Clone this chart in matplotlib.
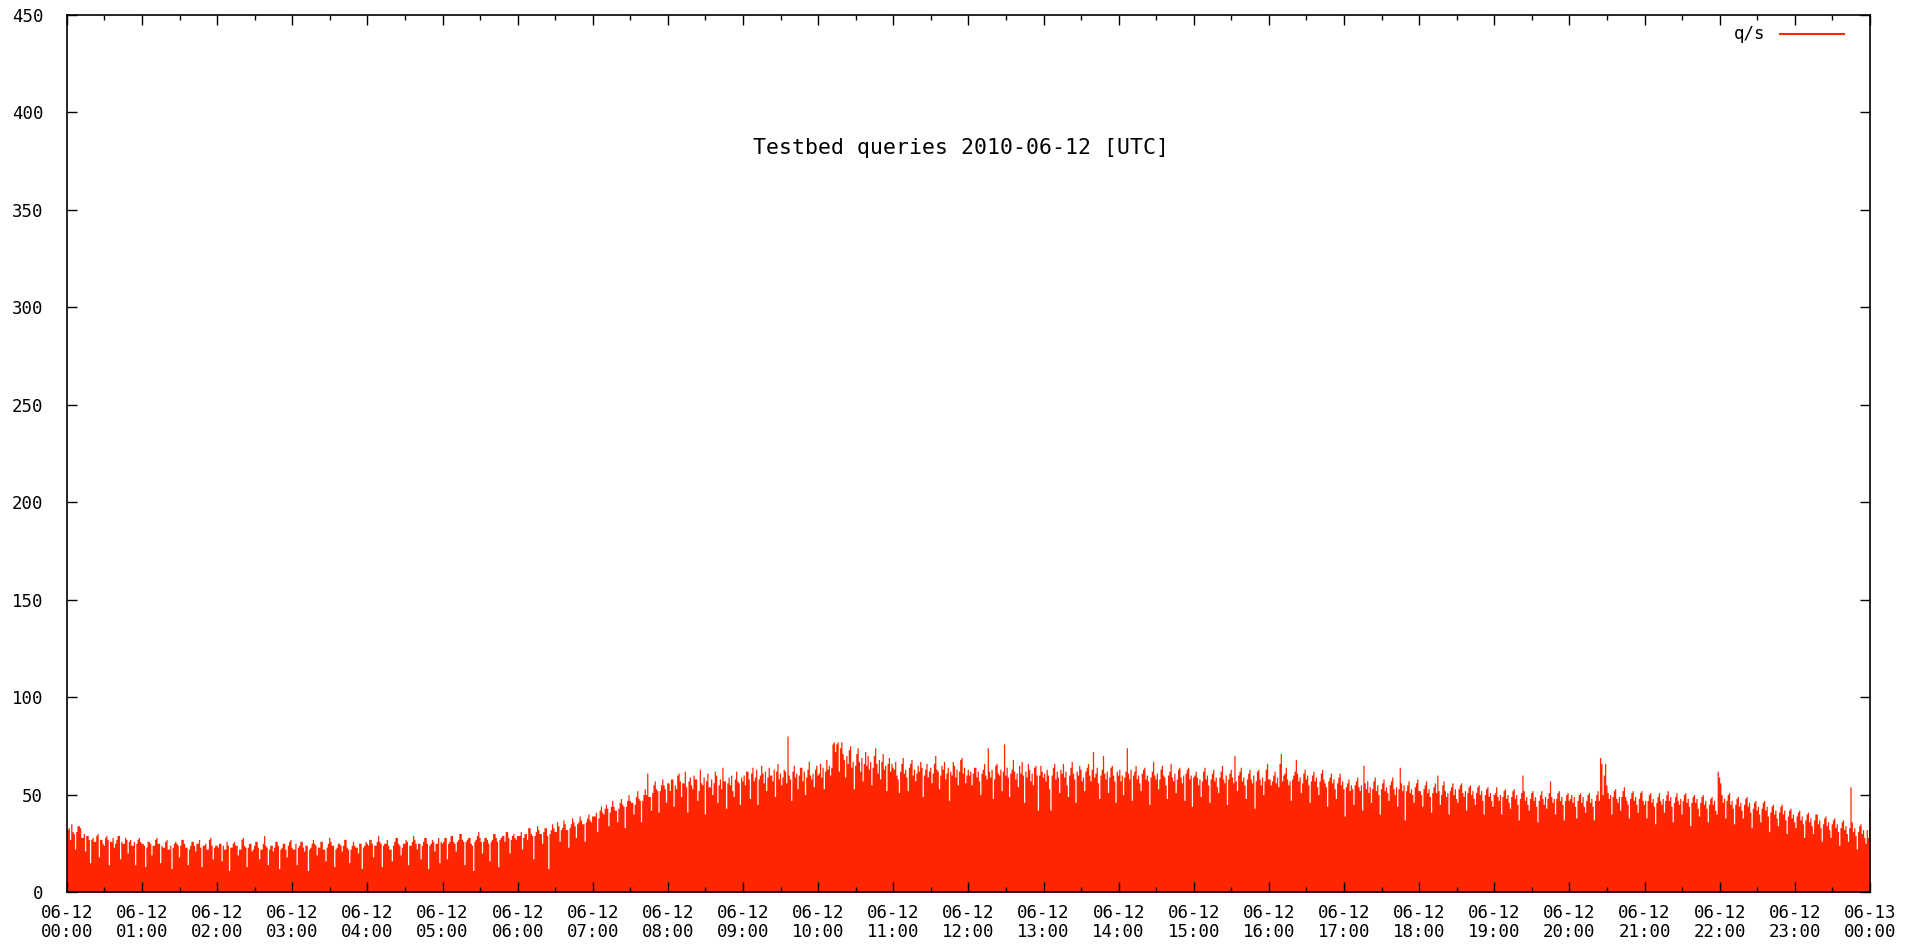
import numpy as np
import matplotlib
matplotlib.use('Agg')
import matplotlib.pyplot as plt

# queries per second, one value per minute, one list per hour (UTC)
q00 = [32, 33, 27, 35, 31, 30, 22, 31, 34, 34, 33, 28, 28, 30, 21, 29, 29, 27, 15, 27,
       28, 26, 26, 29, 30, 18, 27, 27, 25, 24, 28, 29, 27, 14, 26, 26, 28, 23, 25, 27,
       29, 29, 17, 26, 25, 25, 28, 27, 20, 26, 27, 24, 24, 26, 14, 25, 27, 28, 26, 25]
q01 = [25, 24, 13, 23, 26, 26, 25, 19, 24, 24, 27, 28, 25, 25, 15, 24, 23, 23, 26, 27,
       22, 22, 24, 12, 23, 25, 26, 25, 24, 18, 24, 27, 27, 25, 23, 23, 14, 22, 24, 26,
       26, 24, 21, 25, 25, 27, 23, 13, 24, 24, 25, 22, 22, 27, 28, 24, 17, 23, 24, 24]
q02 = [23, 25, 25, 16, 24, 22, 22, 26, 24, 11, 23, 23, 25, 26, 24, 24, 19, 22, 22, 27,
       28, 24, 23, 13, 23, 25, 25, 21, 22, 24, 26, 26, 23, 17, 22, 22, 25, 29, 24, 23,
       14, 22, 24, 24, 21, 23, 26, 26, 24, 12, 22, 23, 25, 25, 22, 18, 24, 26, 27, 23]
q03 = [22, 22, 25, 14, 23, 24, 26, 26, 23, 21, 24, 24, 11, 22, 23, 25, 27, 25, 24, 19,
       23, 23, 26, 26, 22, 22, 16, 23, 25, 28, 26, 24, 24, 13, 22, 23, 25, 25, 24, 21,
       24, 27, 27, 23, 22, 15, 22, 24, 26, 24, 23, 23, 20, 25, 25, 12, 23, 24, 26, 25]
q04 = [24, 27, 27, 25, 18, 24, 24, 26, 29, 26, 25, 13, 24, 25, 25, 27, 24, 22, 22, 16,
       24, 26, 28, 28, 25, 24, 19, 23, 25, 25, 27, 26, 14, 24, 24, 26, 29, 27, 25, 22,
       25, 25, 17, 24, 26, 28, 28, 25, 12, 24, 25, 27, 26, 21, 25, 25, 28, 15, 26, 25]
q05 = [26, 28, 28, 17, 25, 26, 29, 29, 26, 25, 21, 26, 27, 30, 30, 27, 26, 14, 26, 27,
       28, 28, 25, 24, 11, 26, 27, 29, 31, 28, 26, 20, 26, 28, 28, 27, 25, 16, 26, 27,
       30, 30, 28, 26, 13, 27, 28, 29, 29, 26, 31, 31, 28, 20, 27, 29, 30, 28, 27, 29]
q06 = [29, 29, 31, 22, 28, 30, 30, 27, 33, 33, 30, 29, 17, 29, 31, 34, 32, 30, 30, 25,
       31, 33, 33, 29, 12, 30, 32, 35, 33, 31, 31, 36, 34, 26, 32, 33, 37, 35, 32, 32,
       23, 33, 35, 38, 36, 34, 28, 35, 36, 39, 37, 35, 35, 26, 36, 38, 40, 37, 36, 39]
q07 = [39, 39, 41, 31, 38, 42, 44, 41, 40, 43, 45, 43, 34, 41, 44, 47, 44, 42, 42, 36,
       43, 46, 48, 45, 44, 33, 44, 47, 50, 47, 46, 46, 40, 45, 49, 52, 48, 47, 36, 47,
       50, 53, 50, 61, 49, 49, 42, 51, 55, 57, 53, 52, 41, 52, 55, 58, 55, 53, 46, 56]
q08 = [56, 52, 58, 58, 44, 55, 53, 60, 61, 57, 49, 56, 56, 62, 54, 41, 57, 59, 55, 53,
       60, 58, 58, 47, 52, 63, 56, 55, 59, 40, 57, 61, 54, 54, 58, 50, 56, 62, 60, 46,
       55, 58, 53, 64, 57, 57, 43, 56, 59, 55, 60, 52, 49, 58, 62, 57, 56, 45, 59, 57]
q09 = [60, 55, 62, 62, 58, 48, 61, 64, 57, 59, 63, 45, 58, 60, 65, 61, 56, 62, 52, 59,
       64, 60, 60, 57, 63, 49, 62, 66, 58, 61, 55, 59, 63, 62, 56, 80, 60, 58, 47, 62,
       65, 59, 61, 53, 60, 64, 64, 57, 62, 50, 59, 63, 67, 60, 58, 61, 54, 63, 65, 60]
q10 = [61, 66, 59, 64, 53, 62, 68, 63, 65, 60, 64, 76, 77, 72, 76, 77, 62, 74, 77, 71,
       68, 59, 70, 66, 73, 75, 64, 67, 53, 65, 71, 74, 67, 62, 69, 57, 66, 72, 65, 70,
       63, 67, 55, 64, 70, 74, 66, 61, 68, 58, 67, 71, 63, 65, 52, 66, 69, 62, 66, 64]
q11 = [63, 67, 60, 58, 51, 62, 66, 69, 61, 63, 59, 52, 64, 66, 68, 60, 63, 57, 61, 65,
       62, 67, 64, 49, 60, 63, 66, 59, 62, 64, 56, 61, 66, 70, 63, 62, 53, 60, 65, 63,
       67, 58, 61, 64, 47, 62, 60, 67, 65, 59, 63, 55, 62, 68, 69, 61, 64, 56, 60, 63]
q12 = [60, 62, 55, 61, 64, 64, 59, 62, 57, 50, 61, 63, 66, 60, 58, 74, 62, 59, 63, 48,
       58, 65, 66, 61, 60, 63, 52, 62, 76, 60, 64, 59, 49, 61, 63, 68, 62, 58, 61, 54,
       65, 61, 67, 60, 46, 62, 59, 66, 63, 57, 61, 55, 64, 65, 60, 42, 60, 65, 62, 59]
q13 = [61, 57, 63, 60, 53, 42, 60, 64, 66, 58, 62, 59, 51, 63, 61, 66, 59, 62, 55, 49,
       60, 64, 67, 61, 58, 46, 62, 60, 65, 63, 57, 59, 52, 62, 64, 66, 60, 57, 63, 72,
       59, 61, 64, 56, 48, 60, 63, 70, 61, 58, 62, 51, 59, 64, 65, 60, 57, 46, 62, 60]
q14 = [63, 57, 60, 50, 59, 62, 74, 61, 58, 63, 47, 60, 62, 65, 58, 60, 56, 52, 61, 63,
       64, 58, 60, 57, 45, 59, 62, 67, 60, 58, 61, 53, 58, 63, 65, 60, 59, 55, 48, 60,
       62, 66, 59, 57, 61, 51, 58, 63, 64, 59, 56, 60, 47, 61, 63, 64, 58, 60, 44, 59]
q15 = [60, 62, 59, 55, 58, 49, 57, 62, 64, 58, 60, 55, 46, 58, 61, 63, 57, 59, 54, 51,
       59, 62, 65, 58, 56, 60, 45, 58, 61, 63, 59, 56, 70, 57, 52, 60, 62, 64, 57, 59,
       55, 48, 58, 61, 63, 58, 56, 60, 43, 57, 62, 63, 58, 55, 59, 50, 57, 63, 66, 58]
q16 = [58, 55, 57, 60, 62, 56, 59, 54, 66, 71, 57, 60, 61, 64, 58, 55, 57, 47, 58, 60,
       62, 68, 61, 57, 59, 51, 56, 61, 63, 58, 60, 55, 46, 57, 60, 62, 57, 59, 54, 50,
       57, 61, 63, 58, 56, 54, 44, 57, 59, 61, 56, 58, 53, 48, 56, 59, 61, 55, 57, 53]
q17 = [39, 54, 56, 58, 52, 55, 53, 45, 55, 57, 59, 54, 52, 55, 42, 65, 56, 53, 57, 51,
       54, 46, 53, 57, 59, 52, 55, 50, 40, 53, 56, 58, 52, 54, 51, 47, 55, 57, 59, 53,
       50, 54, 44, 53, 64, 56, 52, 55, 37, 52, 55, 57, 51, 53, 50, 46, 54, 56, 58, 52]
q18 = [52, 50, 44, 53, 55, 57, 51, 53, 49, 41, 51, 54, 56, 51, 60, 52, 45, 50, 55, 57,
       52, 49, 51, 40, 52, 54, 56, 50, 53, 48, 46, 53, 55, 56, 51, 49, 52, 42, 51, 54,
       55, 50, 52, 48, 45, 51, 54, 55, 50, 52, 47, 40, 50, 53, 54, 49, 51, 47, 44, 50]
q19 = [51, 54, 49, 47, 50, 40, 49, 52, 53, 48, 50, 46, 43, 49, 52, 53, 48, 50, 45, 37,
       48, 51, 60, 52, 47, 49, 45, 42, 48, 51, 52, 47, 49, 44, 36, 47, 50, 52, 48, 45,
       49, 43, 48, 51, 57, 49, 46, 48, 40, 48, 51, 52, 47, 49, 45, 37, 47, 50, 51, 47]
q20 = [48, 50, 46, 49, 44, 38, 47, 50, 51, 46, 49, 44, 41, 47, 50, 51, 46, 48, 44, 37,
       47, 50, 52, 47, 69, 66, 50, 60, 66, 55, 51, 48, 50, 40, 49, 52, 53, 48, 46, 49,
       42, 49, 52, 54, 49, 47, 45, 38, 48, 51, 52, 47, 49, 45, 41, 48, 51, 52, 47, 45]
q21 = [47, 38, 47, 50, 51, 46, 48, 44, 35, 46, 49, 51, 47, 45, 48, 41, 47, 50, 52, 47,
       49, 44, 36, 46, 49, 51, 47, 45, 48, 40, 47, 50, 51, 46, 48, 44, 34, 46, 49, 50,
       46, 48, 43, 39, 46, 49, 50, 45, 47, 43, 36, 45, 48, 49, 45, 47, 42, 40, 62, 59]
q22 = [56, 50, 46, 48, 38, 47, 50, 51, 45, 47, 43, 35, 45, 48, 49, 44, 46, 42, 38, 45,
       48, 49, 44, 46, 41, 33, 43, 46, 47, 42, 44, 40, 36, 43, 46, 47, 42, 44, 39, 31,
       41, 44, 45, 40, 42, 38, 34, 41, 44, 45, 40, 42, 37, 30, 39, 42, 43, 38, 40, 36]
q23 = [33, 39, 41, 42, 37, 39, 35, 28, 37, 40, 41, 36, 38, 34, 30, 37, 40, 40, 35, 37,
       33, 26, 35, 38, 39, 34, 36, 32, 28, 35, 37, 38, 33, 35, 31, 24, 33, 36, 37, 32,
       34, 30, 26, 33, 54, 36, 31, 33, 29, 22, 31, 34, 35, 30, 32, 28, 25, 32, 28, 42]

hours = [q00, q01, q02, q03, q04, q05, q06, q07, q08, q09, q10, q11,
         q12, q13, q14, q15, q16, q17, q18, q19, q20, q21, q22, q23]
tick_labels = ['06-12\n%02d:00' % h for h in range(24)] + ['06-13\n00:00']

qps = np.concatenate(hours).astype(float)
t = np.arange(len(qps) + 1) / 60.0   # hours since midnight
y = np.append(qps, qps[-1])

RED = '#ff2600'
FONT = 'DejaVu Sans Mono'

fig = plt.figure(figsize=(19.23, 9.44), dpi=100)
ax = fig.add_axes([0.0348, 0.0551, 0.9376, 0.929])

ax.fill_between(t, y, step='post', color=RED, linewidth=0)

ax.set_xlim(0, 24)
ax.set_ylim(0, 450)
ax.set_xticks(range(25))
ax.set_xticklabels(tick_labels, fontfamily=FONT, fontsize=12.5, linespacing=1.05)
ax.set_xticks(np.arange(0.5, 24, 1), minor=True)
ax.set_yticks(range(0, 451, 50))
ax.set_yticklabels([str(v) for v in range(0, 451, 50)], fontfamily=FONT, fontsize=12.5)

ax.tick_params(which='both', direction='in', top=True, right=True, width=1, color='black')
ax.tick_params(which='major', length=7)
ax.tick_params(which='minor', length=3.5)
ax.tick_params(axis='x', pad=9)
ax.tick_params(axis='y', pad=17)
for s in ax.spines.values():
    s.set_linewidth(1.2)
    s.set_color('black')

ax.text(0.496, 0.848, 'Testbed queries 2010-06-12 [UTC]', transform=ax.transAxes,
        ha='center', va='center', fontfamily=FONT, fontsize=15.5)

# key in the upper right corner
ax.text(0.942, 0.978, 'q/s', transform=ax.transAxes, ha='right', va='center',
        fontfamily=FONT, fontsize=12.5)
ax.plot([0.950, 0.9856], [0.978, 0.978], transform=ax.transAxes, color=RED, lw=1.5)

fig.savefig('out.png', dpi=100)
